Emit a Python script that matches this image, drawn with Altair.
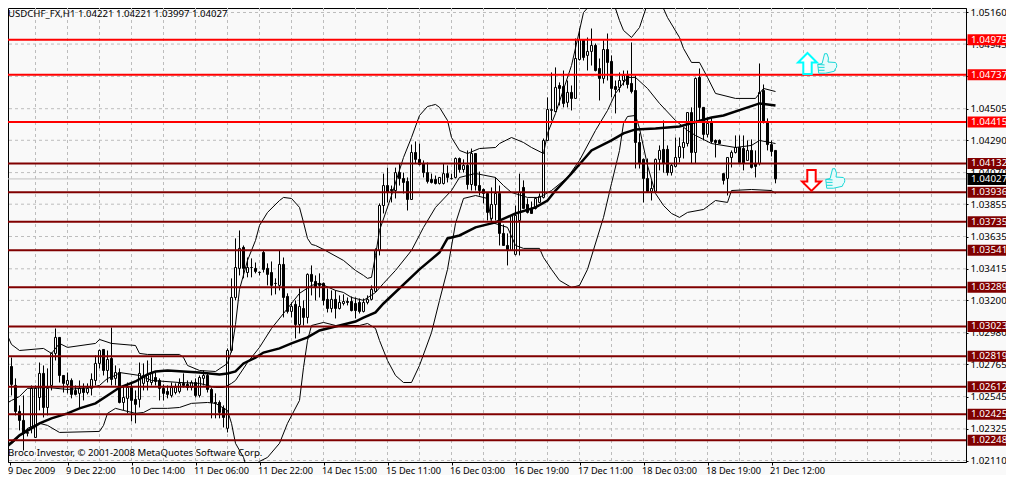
import altair as alt
import pandas as pd

# all prices are in points above 1.00000 (1 point = 0.00001)
opens = [2621,2601,2750,2621,2444,2383,2295,2335,2267,2539,2703,2471,2621,2839,2948,2689,2628,2655,2587,2567,2601,2573,2601,2655,2771,2866,2723,2805,2669,2709,2505,2533,2607,2526,2526,2635,2648,2641,2675,2655,2601,2580,2553,2573,2580,2635,2628,2607,2641,2553,2669,2689,2594,2505,2505,2465,2329,2859,3220,3418,3561,3390,3424,3418,3390,3526,3418,3390,3316,3302,3445,3227,3125,3173,3036,3145,3084,3377,3329,3316,3316,3207,3145,3207,3145,3179,3193,3193,3179,3186,3125,3186,3207,3261,3540,3846,3982,3955,3948,4070,4030,4010,3887,4207,4160,4132,4070,4023,4023,3996,3996,4063,4030,4037,4166,4091,4119,3989,4200,3982,3955,3928,3757,3853,3928,3656,3574,3540,3513,3744,3969,3853,3826,3826,3867,3901,4289,4493,4486,4663,4656,4548,4616,4575,4840,4976,4868,4895,4936,4779,4711,4908,4827,4656,4650,4697,4731,4677,4629,4275,4160,4030,3942,3942,4160,4228,4228,4070,4112,4173,4241,4268,4479,4207,4718,4514,4330,4411,4289,4289,4063,4030,4173,4207,4241,4234,4153,4221,4132,4132,4629,4411,4261,4221]
closes = [2539,2757,2628,2444,2383,2295,2301,2601,2601,2703,2471,2601,2839,2948,2689,2635,2655,2560,2560,2601,2573,2601,2662,2771,2859,2723,2798,2662,2709,2505,2539,2607,2519,2492,2703,2689,2689,2709,2648,2601,2567,2560,2607,2607,2635,2621,2607,2641,2553,2675,2689,2594,2505,2499,2437,2403,2859,3220,3424,3554,3418,3424,3424,3397,3391,3411,3377,3302,3315,3445,3220,3125,3159,3036,3159,3084,3377,3329,3288,3302,3200,3145,3207,3145,3186,3193,3186,3131,3131,3125,3186,3207,3275,3540,3846,3982,3935,3948,4070,4030,4003,3887,4207,4160,4125,4070,4010,4003,3996,4037,4063,4037,4029,4166,4091,4119,3989,4200,3982,3948,3928,3799,3853,3928,3656,3574,3547,3778,3778,3935,3826,3799,3792,3894,3908,4289,4500,4500,4650,4643,4541,4616,4575,4847,4976,4854,4895,4936,4765,4711,4908,4820,4643,4636,4697,4731,4670,4622,4275,4132,4030,3942,3962,4160,4221,4132,4070,4119,4173,4248,4275,4479,4207,4711,4514,4330,4405,4282,4275,4268,4017,4173,4207,4241,4139,4132,4221,4105,4112,4616,4411,4261,4214,4027]
highs = [2689,2791,2811,2669,2485,2553,2329,2621,2621,2777,2757,2737,2845,3009,2948,2689,2709,2669,2621,2655,2635,2635,2703,2825,2866,2866,2859,3015,2757,2737,2621,2641,2635,2587,2777,2771,2791,2811,2709,2669,2628,2621,2641,2635,2669,2703,2655,2655,2669,2689,2723,2709,2607,2567,2519,2485,2873,3350,3622,3676,3574,3492,3486,3458,3397,3540,3452,3465,3350,3540,3492,3248,3186,3200,3281,3200,3384,3438,3370,3384,3322,3281,3268,3268,3234,3241,3220,3227,3220,3213,3213,3234,3302,3554,3860,4063,4104,3982,4104,4132,4070,4037,4261,4282,4268,4153,4139,4063,4050,4037,4132,4119,4063,4173,4173,4160,4221,4234,4200,4077,3962,3935,3969,4037,3982,3717,3656,3778,3846,4063,4017,3894,3873,3901,3928,4302,4582,4752,4786,4684,4765,4697,4663,4983,5051,4976,4990,5051,4949,4847,4970,5017,4868,4697,4752,4765,4765,4956,4731,4337,4166,4166,4017,4166,4255,4425,4255,4132,4309,4309,4377,4479,4514,4718,4779,4514,4445,4445,4296,4296,4063,4173,4221,4323,4323,4323,4289,4296,4221,4813,4670,4439,4289,4221]
lows = [2485,2553,2553,2417,2315,2178,2274,2295,2267,2451,2403,2417,2587,2791,2641,2573,2567,2533,2553,2465,2519,2560,2553,2621,2737,2689,2641,2621,2621,2499,2451,2431,2376,2363,2471,2587,2587,2621,2621,2519,2519,2533,2539,2560,2567,2607,2587,2587,2539,2539,2621,2573,2397,2397,2397,2335,2301,2845,3200,3370,3350,3357,3357,3384,3370,3390,3302,3234,3241,3268,3084,3111,3084,2941,2975,3029,3043,3234,3200,3220,3166,3118,3118,3077,3138,3166,3166,3125,3077,3111,3118,3173,3200,3254,3506,3792,3867,3867,3894,3982,3928,3812,3887,4132,4119,4037,3996,3996,3989,3989,3989,4003,4023,4030,4070,4070,3955,3948,3948,3914,3860,3744,3744,3744,3574,3574,3438,3540,3506,3506,3826,3792,3792,3819,3867,3894,4289,4425,4486,4527,4514,4514,4493,4575,4833,4833,4765,4799,4759,4561,4677,4697,4582,4473,4616,4663,4643,4609,4098,4098,3867,3935,3880,3935,4085,4070,4050,4050,4105,4139,4166,4248,4132,4132,4411,4289,4309,4268,4173,4268,3989,3914,4105,4200,4139,4085,4153,4098,4037,4119,4405,4221,4180,3997]

upper_bar = [0,2,4,10,12,14,16,23,24,27,33,34,36,44,45,46,49,53,56,57,58,59,61,63,64,66,69,70,72,74,75,76,77,78,80,85,88,90,91,92,93,94,97,100,102,104,106,107,108,109,111,112,114,116,119,123,124,127,130,132,135,136,138,142,144,145,147,148,152,153,154,155,157,159,161,162,164,165,166,169,170,172,174,176,178,183,188,190,193]
upper_pts = [3022,2900,2859,2873,2839,2907,2880,2907,2934,2907,2893,2839,2832,2832,2811,2757,2723,2716,2771,2859,3036,3275,3472,3608,3710,3799,3880,3901,3894,3833,3731,3622,3581,3574,3547,3472,3404,3370,3350,3357,3506,3676,3914,4173,4309,4459,4520,4527,4534,4514,4425,4309,4221,4200,4234,4241,4268,4309,4275,4241,4200,4337,4473,4799,5038,5160,5221,5310,5310,5187,5105,5038,4990,5058,5221,5276,5276,5187,5126,4990,4915,4820,4820,4718,4609,4575,4575,4643,4622]

middle_bar = [0,2,4,6,11,16,22,24,26,28,29,34,37,44,49,51,53,55,57,58,61,64,67,70,74,77,79,83,85,87,90,93,95,98,102,105,108,112,114,118,123,125,127,131,134,137,141,144,148,151,153,156,158,161,164,168,171,173,177,183,187,189,193]
middle_pts = [2485,2519,2546,2601,2607,2594,2607,2621,2669,2689,2709,2689,2655,2641,2635,2621,2607,2607,2635,2655,2777,2880,3009,3111,3248,3302,3316,3268,3254,3220,3200,3254,3316,3404,3540,3697,3833,3948,4037,4064,4037,3982,3935,3901,3901,3948,4037,4153,4357,4493,4609,4718,4718,4643,4541,4425,4357,4323,4268,4241,4255,4289,4268]

lower_bar = [0,1,3,6,9,11,14,24,25,26,28,30,33,35,37,41,44,47,51,53,56,57,58,60,61,64,66,69,71,74,75,76,77,80,83,89,91,93,94,96,98,100,102,104,107,109,111,113,115,118,121,122,126,128,130,134,135,137,139,142,144,146,150,152,154,155,156,158,159,161,163,165,167,169,171,175,178,181,182,187,192,193]
lower_pts = [2178,2199,2247,2329,2363,2349,2301,2308,2349,2431,2465,2451,2431,2437,2465,2465,2471,2499,2505,2499,2451,2363,2227,2131,2042,2104,2131,2227,2363,2519,2743,2927,3029,3050,3029,3029,3043,3009,2927,2791,2689,2641,2641,2757,2981,3200,3411,3724,3894,3914,3894,3731,3697,3574,3554,3554,3492,3411,3336,3288,3302,3411,3765,3996,4221,4405,4452,4459,4371,4119,3928,3846,3792,3765,3799,3819,3880,3867,3948,3955,3948,3928]

ma_bar = [0,2,4,7,9,12,16,19,23,26,29,33,36,38,41,45,49,54,56,58,60,63,65,69,72,76,79,84,88,90,93,95,104,109,111,114,118,123,128,133,136,138,142,147,152,155,158,163,169,177,180,189,193]
ma_pts = [2193,2233,2281,2329,2363,2397,2431,2465,2499,2553,2607,2648,2696,2716,2723,2716,2709,2696,2703,2716,2771,2811,2845,2873,2907,2948,2995,3029,3056,3083,3118,3179,3411,3526,3622,3642,3697,3731,3792,3833,3880,3948,4064,4221,4289,4337,4364,4371,4384,4445,4459,4541,4527]

level_prices = [1.04975,1.04737,1.04415,1.04132,1.03936,1.03735,1.03541,1.03289,1.03023,1.02819,1.02612,1.02425,1.02248]
level_colors = ["#ff0000","#ff0000","#ff0000","#800000","#800000","#800000","#800000","#800000","#800000","#800000","#800000","#800000","#800000"]
y_ticks = [1.05160,1.04945,1.04725,1.04505,1.04290,1.04070,1.03855,1.03635,1.03415,1.03200,1.02980,1.02765,1.02545,1.02325,1.02110]
x_grid = list(range(8, 240, 8))
x_tick_bars = [1.5,16,32,48,64,80,96,112,128,144,160,176,192]
x_tick_labels = ["9 Dec 2009","9 Dec 22:00","10 Dec 14:00","11 Dec 06:00","11 Dec 22:00","14 Dec 15:00","15 Dec 11:00","16 Dec 03:00","16 Dec 19:00","17 Dec 11:00","18 Dec 03:00","18 Dec 19:00","21 Dec 12:00"]
last_price = 1.04027
header = "USDCHF_FX,H1  1.04221 1.04221 1.03997 1.04027"
footer = "Broco Investor, \u00a9 2001-2008 MetaQuotes Software Corp."

FONT = "Noto Sans"
FS = 9.8
BG = "#f9f9f9"
GRID = "#bdbdbd"
PX_PER_UNIT = 6.808e-5
PLOT_W = 958
PLOT_H = 454
top_price = 1.0516 + 4.5 * PX_PER_UNIT
bot_price = 1.0516 - (PLOT_H - 4.5) * PX_PER_UNIT
yscale = alt.Scale(domain=[bot_price, top_price], nice=False, zero=False, padding=0)
xscale = alt.Scale(domain=[1.125, 1.125 + PLOT_W / 4], nice=False, zero=False, padding=0)
label_expr = "[" + ",".join(f"'{s}'" for s in x_tick_labels) + "][indexof([" + ",".join(str(v) for v in x_tick_bars) + "],datum.value)]"
xaxis = alt.Axis(orient="bottom", values=x_tick_bars, labelExpr=label_expr, title=None, grid=False,
                 tickSize=3, tickColor="#000", domainColor="#000", labelColor="#000",
                 labelFont=FONT, labelFontSize=9.2, labelAlign="left", labelPadding=1, labelOffset=-2,
                 labelOverlap=False, labelBound=False, labelFlush=False, labelAngle=0)
yaxis = alt.Axis(orient="right", values=y_ticks, format=".5f", title=None, grid=False,
                 tickSize=2, tickColor="#000", domainColor="#000", labelColor="#000",
                 labelFont=FONT, labelFontSize=FS, labelPadding=2, labelOverlap=False,
                 labelBound=False, labelFlush=False)
X = alt.X("i:Q", scale=xscale, axis=xaxis)
Y = alt.Y("p:Q", scale=yscale, axis=yaxis)


def px(points):
    return [1 + v / 1e5 for v in points]


candles = pd.DataFrame({"i": list(range(len(opens))), "o": px(opens), "c": px(closes), "h": px(highs), "l": px(lows)})
upper = pd.DataFrame({"i": upper_bar, "p": px(upper_pts)})
middle = pd.DataFrame({"i": middle_bar, "p": px(middle_pts)})
lower = pd.DataFrame({"i": lower_bar, "p": px(lower_pts)})
ma = pd.DataFrame({"i": ma_bar, "p": px(ma_pts)})
levels = pd.DataFrame({"p": level_prices, "col": level_colors, "t": [f"{v:.5f}" for v in level_prices]})
gridx = pd.DataFrame({"i": x_grid})

ygrid = alt.Chart(pd.DataFrame({"p": y_ticks})).mark_rule(color=GRID, strokeDash=[3, 3], strokeWidth=1, clip=True).encode(y=Y)
xgrid = alt.Chart(gridx).mark_rule(color=GRID, strokeDash=[3, 3], strokeWidth=1, clip=True).encode(x=X)
bid = alt.Chart(pd.DataFrame({"p": [last_price]})).mark_rule(color="#c0c0c0", strokeWidth=1).encode(y=Y)

wicks = alt.Chart(candles).mark_rule(color="#000", strokeWidth=1, clip=True).encode(
    x=X, y=alt.Y("h:Q", scale=yscale, axis=yaxis), y2="l:Q")
bodies = alt.Chart(candles).mark_bar(size=2, stroke="#000", strokeWidth=1, clip=True).encode(
    x=X, y=alt.Y("o:Q", scale=yscale, axis=yaxis), y2="c:Q",
    fill=alt.condition("datum.c > datum.o", alt.value("#ffffff"), alt.value("#000000")))


def band(df, w):
    return alt.Chart(df).mark_line(color="#000", strokeWidth=w, clip=True, interpolate="linear").encode(x=X, y=Y)


BOX_L = PLOT_W + 1.5
BOX_R = 998
TXT_L = PLOT_W + 5
hlines = alt.Chart(levels).mark_rule(strokeWidth=2).encode(y=Y, color=alt.Color("col:N", scale=None))
boxes = alt.Chart(levels).mark_rule(strokeWidth=11).encode(
    x=alt.value(BOX_L), x2=alt.value(BOX_R), y=Y, color=alt.Color("col:N", scale=None))
box_text = alt.Chart(levels).mark_text(align="left", baseline="middle", color="#fff", font=FONT, fontSize=FS).encode(
    x=alt.value(TXT_L), y=Y, text="t:N")
last_df = pd.DataFrame({"p": [last_price], "t": [f"{last_price:.5f}"]})
last_box = alt.Chart(last_df).mark_rule(strokeWidth=12, color="#000").encode(x=alt.value(BOX_L), x2=alt.value(BOX_R), y=Y)
last_text = alt.Chart(last_df).mark_text(align="left", baseline="middle", color="#fff", font=FONT, fontSize=FS).encode(
    x=alt.value(TXT_L), y=Y, text="t:N")

ARROW_UP = "M0,-1 L0.9,-0.1 L0.4,-0.1 L0.4,1 L-0.4,1 L-0.4,-0.1 L-0.9,-0.1 Z"
ARROW_DOWN = "M0,1 L0.9,0.1 L0.4,0.1 L0.4,-1 L-0.4,-1 L-0.4,0.1 L-0.9,0.1 Z"
THUMB = ("M-0.3,-1 L-0.05,-1 L0.1,-0.55 L0.05,-0.15 L0.8,-0.1 C1,0 1,0.45 0.8,0.55 L0.7,0.8 L-0.2,1 L-0.9,1 L-1,0.1 L-0.55,0 Z "
         "M-1,0.1 L-0.3,0.15 M-0.95,0.4 L-0.3,0.4 M-0.95,0.7 L-0.3,0.7")
up_arrow = alt.Chart(pd.DataFrame({"i": [201], "p": [1.04813]})).mark_point(
    shape=ARROW_UP, size=441, stroke="#00ffff", strokeWidth=2, fill="#ffffff", fillOpacity=1, opacity=1).encode(x=X, y=Y)
down_arrow = alt.Chart(pd.DataFrame({"i": [202], "p": [1.04017]})).mark_point(
    shape=ARROW_DOWN, size=441, stroke="#ff0000", strokeWidth=2, fill="#ffffff", fillOpacity=1, opacity=1).encode(x=X, y=Y)
thumbs = alt.Chart(pd.DataFrame({"i": [206, 208], "p": [1.04813, 1.04030]})).mark_point(
    shape=THUMB, size=380, stroke="#19d8d8", strokeWidth=1, fill="#e8fbfb", fillOpacity=1, opacity=1).encode(x=X, y=Y)

head_text = alt.Chart(pd.DataFrame({"t": [header]})).mark_text(align="left", baseline="middle", color="#000", font=FONT, fontSize=9.6).encode(
    x=alt.value(0), y=alt.value(6), text="t:N")
foot_text = alt.Chart(pd.DataFrame({"t": [footer]})).mark_text(align="left", baseline="middle", color="#000", font=FONT, fontSize=9.6).encode(
    x=alt.value(0), y=alt.value(445), text="t:N")

chart = alt.layer(
    ygrid, xgrid, bid, wicks, bodies,
    band(upper, 1), band(middle, 1), band(lower, 1), band(ma, 2.5),
    hlines, boxes, box_text, last_box, last_text,
    up_arrow, down_arrow, thumbs, head_text, foot_text,
).properties(
    width=PLOT_W, height=PLOT_H,
    background=BG,
    padding={"left": 0, "top": 0, "right": 40, "bottom": 13},
    autosize=alt.AutoSizeParams(type="none", contains="content"),
).configure_view(stroke="#000", strokeWidth=1, fill=BG)

chart.save("out.html", embed_options={"renderer": "svg", "actions": False})
